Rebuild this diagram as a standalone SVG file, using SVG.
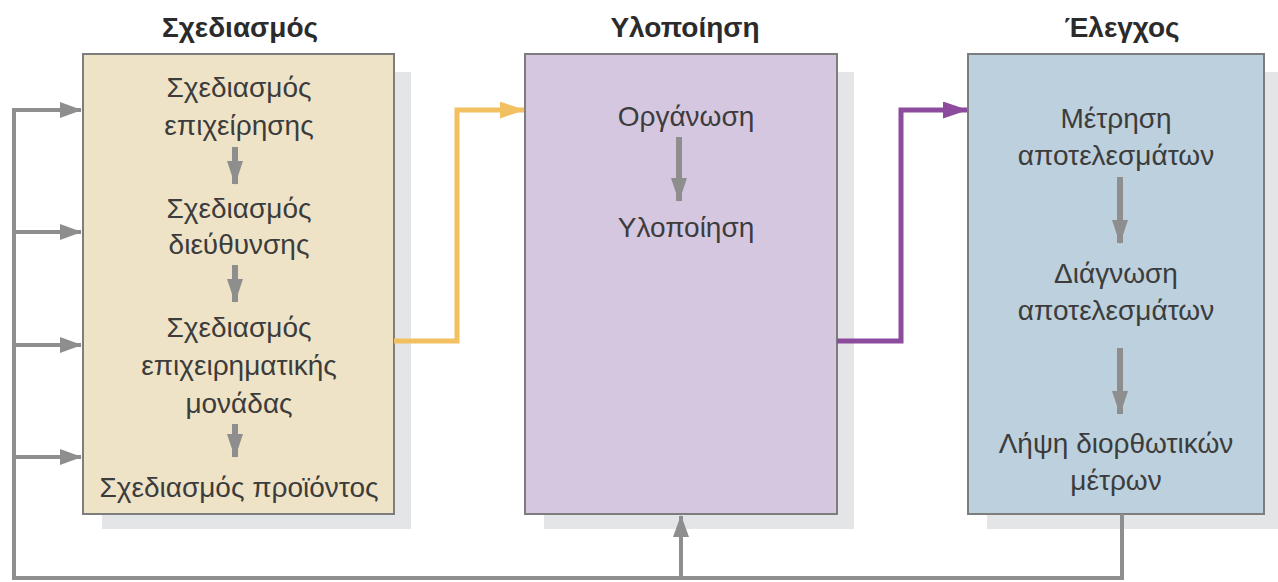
<svg xmlns="http://www.w3.org/2000/svg" width="1278" height="582" viewBox="0 0 1278 582">
<defs>
<style>
.title{font-family:"Liberation Sans",Arial,sans-serif;font-weight:bold;font-size:28px;fill:#2b2b2b;text-anchor:middle}
.t{font-family:"Liberation Sans",Arial,sans-serif;font-size:28px;fill:#3c3c3c;text-anchor:middle}
.shadow{fill:#e4e5e7}
.box{stroke:#7d7d7d;stroke-width:2}
.gl{fill:none;stroke:#8e8e8e;stroke-width:4}
.ia{fill:none;stroke:#8e8e8e;stroke-width:6}
</style>
<marker id="ag" viewBox="0 0 22 16" refX="21" refY="8" markerWidth="22" markerHeight="16" orient="auto" markerUnits="userSpaceOnUse"><path d="M0,0 L22,8 L0,16 z" fill="#8e8e8e"/></marker>
<marker id="ai" viewBox="0 0 24 16" refX="23" refY="8" markerWidth="24" markerHeight="16" orient="auto" markerUnits="userSpaceOnUse"><path d="M0,0 L24,8 L0,16 z" fill="#8e8e8e"/></marker>
<marker id="ay" viewBox="0 0 25 17" refX="24" refY="8.5" markerWidth="25" markerHeight="17" orient="auto" markerUnits="userSpaceOnUse"><path d="M0,0 L25,8.5 L0,17 z" fill="#f2c060"/></marker>
<marker id="ap" viewBox="0 0 25 17" refX="24" refY="8.5" markerWidth="25" markerHeight="17" orient="auto" markerUnits="userSpaceOnUse"><path d="M0,0 L25,8.5 L0,17 z" fill="#8c4b9c"/></marker>
</defs>
<rect width="1278" height="582" fill="#ffffff"/>
<g id="planning">
<rect class="shadow" x="102" y="72" width="309" height="457"/>
<rect class="box" x="83" y="54" width="311" height="460" fill="#eee3c6"/>
<text class="title" x="240" y="37">Σχεδιασμός</text>
<text class="t" x="239" y="97">Σχεδιασμός</text>
<text class="t" x="239" y="135">επιχείρησης</text>
<text class="t" x="239" y="218">Σχεδιασμός</text>
<text class="t" x="239" y="254">διεύθυνσης</text>
<text class="t" x="239" y="337">Σχεδιασμός</text>
<text class="t" x="239" y="375">επιχειρηματικής</text>
<text class="t" x="239" y="413">μονάδας</text>
<text class="t" x="239" y="497">Σχεδιασμός προϊόντος</text>
<line class="ia" x1="235" y1="147" x2="235" y2="184" marker-end="url(#ai)"/>
<line class="ia" x1="235" y1="265" x2="235" y2="302" marker-end="url(#ai)"/>
<line class="ia" x1="235" y1="424" x2="235" y2="457" marker-end="url(#ai)"/>
</g>
<g id="implementation">
<rect class="shadow" x="544" y="72" width="310" height="457"/>
<rect class="box" x="525" y="54" width="312" height="460" fill="#d6c7e1"/>
<text class="title" x="685" y="37">Υλοποίηση</text>
<text class="t" x="686" y="126">Οργάνωση</text>
<text class="t" x="686" y="237">Υλοποίηση</text>
<line class="ia" x1="679" y1="137" x2="679" y2="201" marker-end="url(#ai)"/>
</g>
<g id="control">
<rect class="shadow" x="987" y="72" width="291" height="457"/>
<rect class="box" x="968" y="54" width="296" height="460" fill="#bdd0dd"/>
<text class="title" x="1122" y="37">Έλεγχος</text>
<text class="t" x="1116" y="128">Μέτρηση</text>
<text class="t" x="1116" y="165">αποτελεσμάτων</text>
<text class="t" x="1116" y="283">Διάγνωση</text>
<text class="t" x="1116" y="320">αποτελεσμάτων</text>
<text class="t" x="1116" y="453">Λήψη διορθωτικών</text>
<text class="t" x="1116" y="490">μέτρων</text>
<line class="ia" x1="1120" y1="177" x2="1120" y2="243" marker-end="url(#ai)"/>
<line class="ia" x1="1120" y1="348" x2="1120" y2="414" marker-end="url(#ai)"/>
</g>
<g id="connectors">
<polyline points="394,341 457,341 457,110 524,110" fill="none" stroke="#f2c060" stroke-width="5" marker-end="url(#ay)"/>
<polyline points="837,341 901,341 901,110 967,110" fill="none" stroke="#8c4b9c" stroke-width="5" marker-end="url(#ap)"/>
<polyline class="gl" points="1122,514 1122,578 14,578 14,110"/>
<line class="gl" x1="12" y1="110" x2="81" y2="110" marker-end="url(#ag)"/>
<line class="gl" x1="14" y1="232" x2="81" y2="232" marker-end="url(#ag)"/>
<line class="gl" x1="14" y1="345" x2="81" y2="345" marker-end="url(#ag)"/>
<line class="gl" x1="14" y1="457" x2="81" y2="457" marker-end="url(#ag)"/>
<line class="gl" x1="681" y1="580" x2="681" y2="516" marker-end="url(#ag)"/>
</g>
</svg>
